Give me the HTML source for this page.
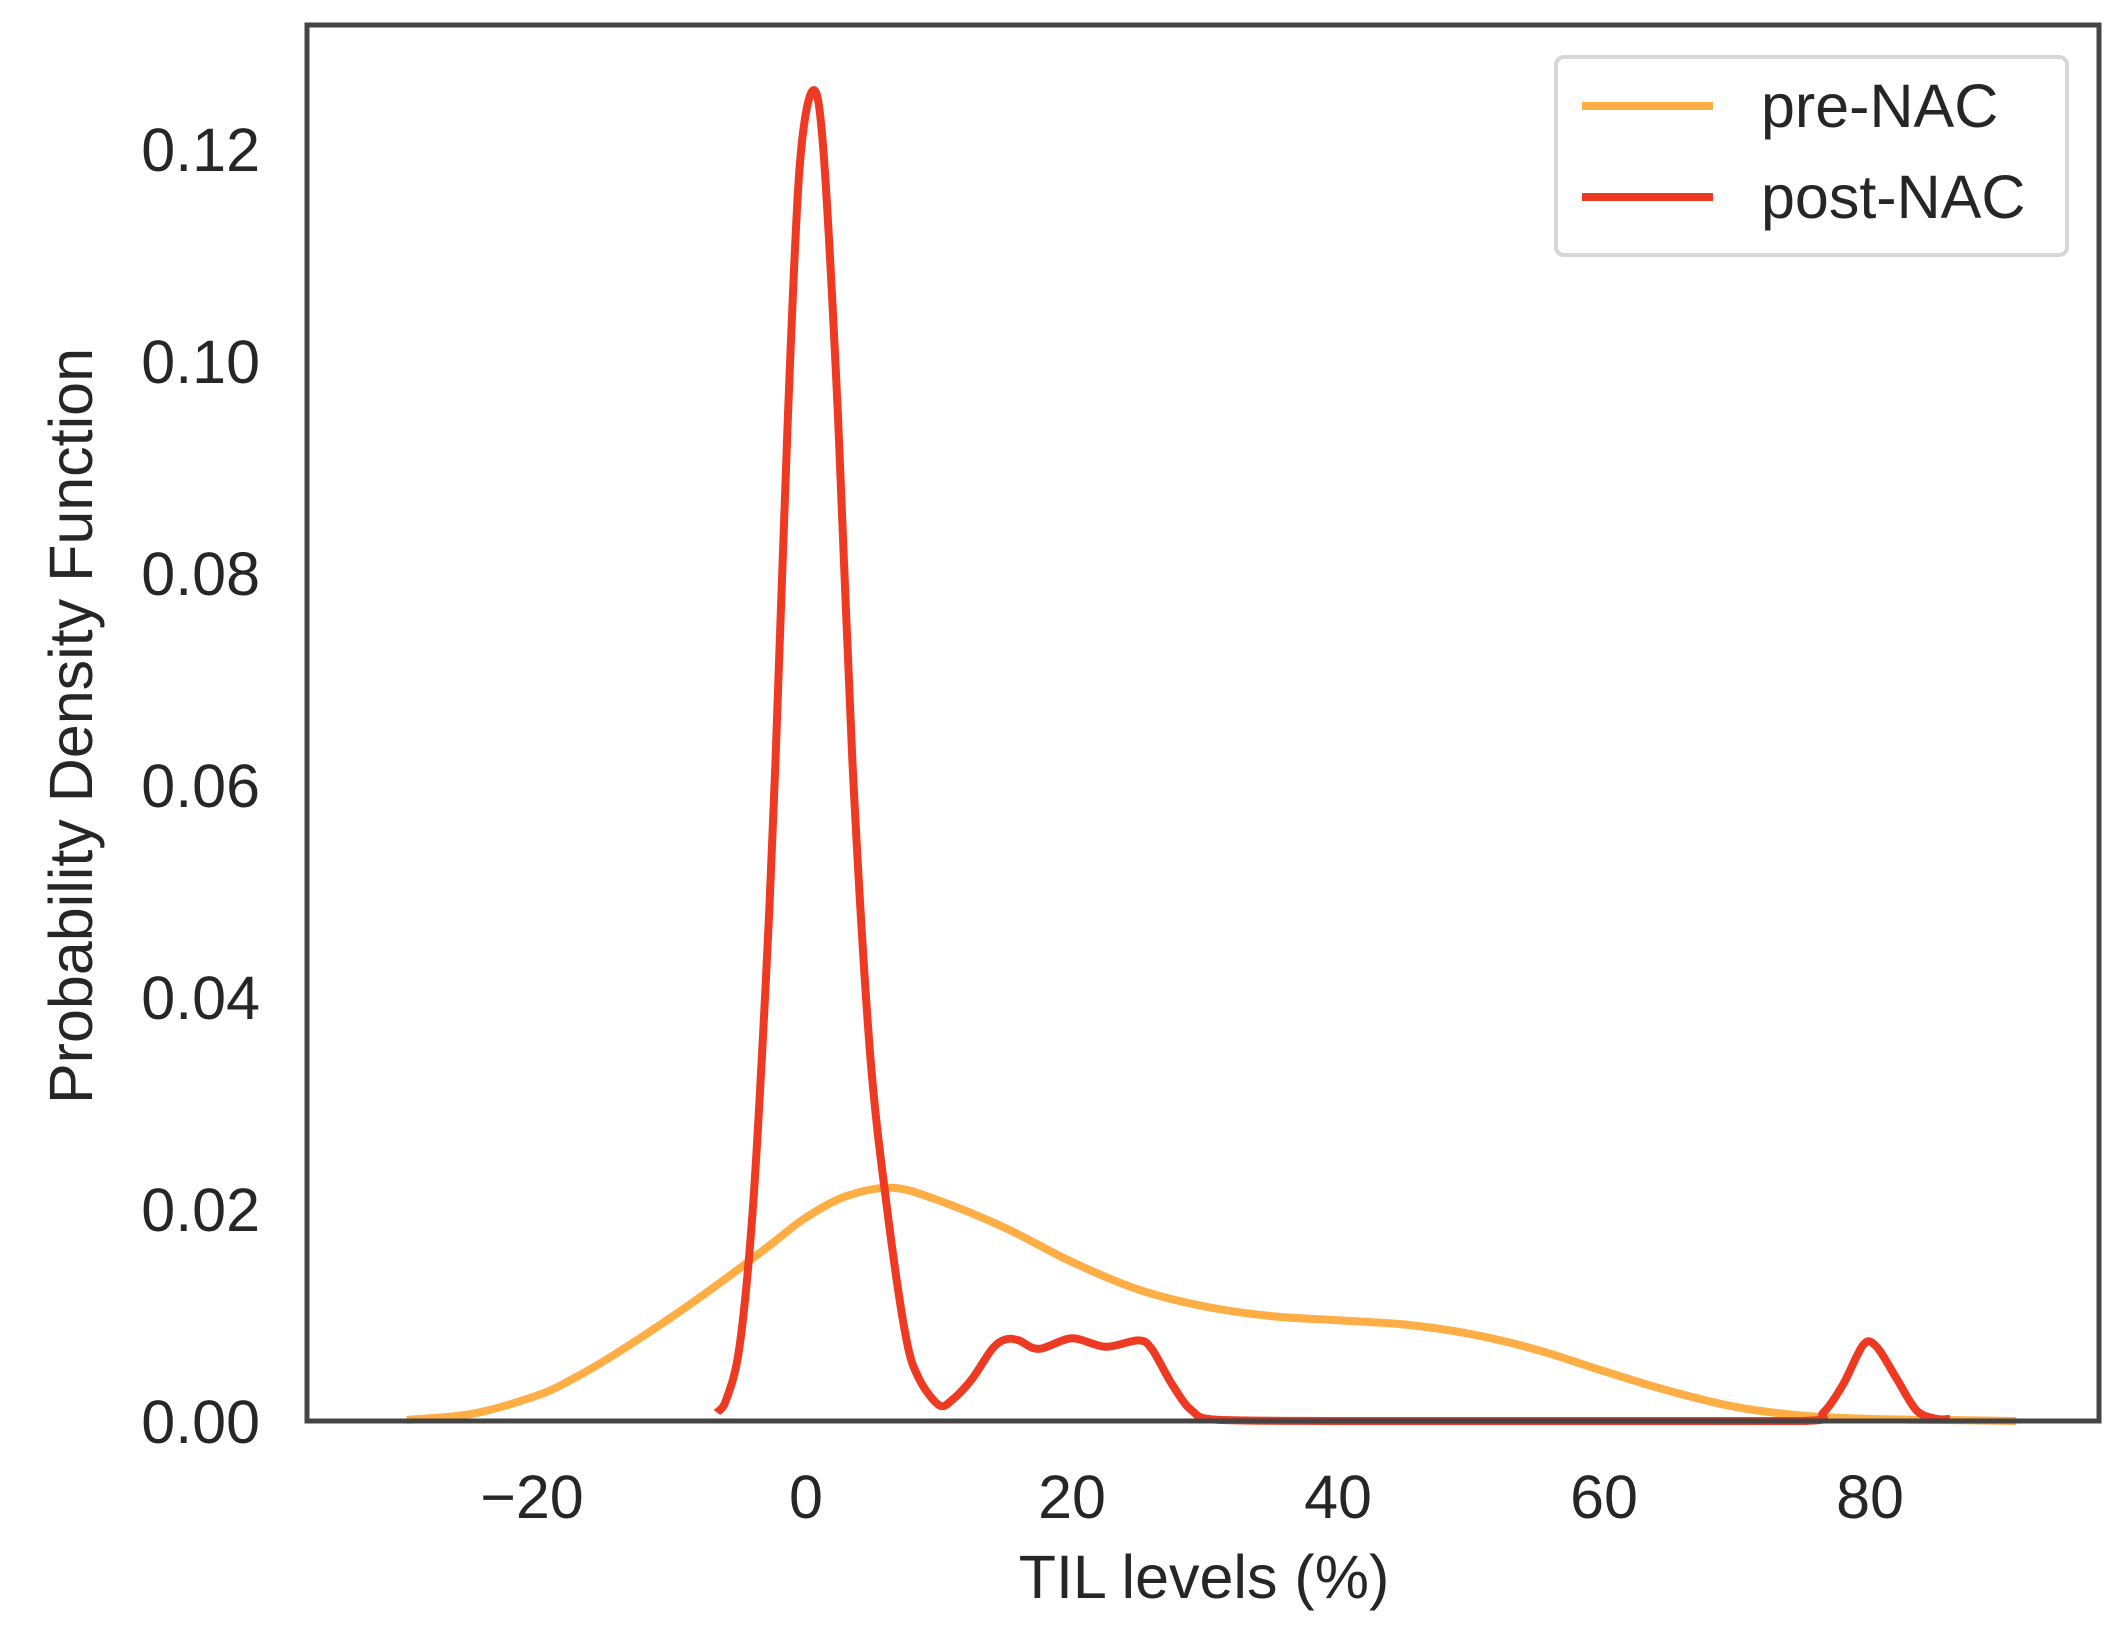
<!DOCTYPE html>
<html><head><meta charset="utf-8"><style>
html,body{margin:0;padding:0;background:#fff;}
svg{display:block;font-family:"Liberation Sans",sans-serif;}
</style></head><body>
<svg id="chart" width="2128" height="1632" viewBox="0 0 2128 1632">
<g id="series"></g>
<rect x="307" y="25" width="1792" height="1396" fill="none" stroke="#444" stroke-width="5"/>
<g id="xticks" font-size="61" fill="#262626" text-anchor="middle"></g>
<g id="yticks" font-size="61" fill="#262626" text-anchor="end"></g>
<text x="1204" y="1598" font-size="61" fill="#262626" text-anchor="middle">TIL levels (%)</text>
<text transform="translate(92,726) rotate(-90)" font-size="61" fill="#262626" text-anchor="middle">Probability Density Function</text>
<g>
<rect x="1556" y="57" width="511" height="198" rx="8" fill="#fff" stroke="#d6d6d6" stroke-width="4"/>
<line x1="1582" y1="106" x2="1713" y2="106" stroke="#FFAD45" stroke-width="8"/>
<text x="1761" y="127" font-size="61" fill="#262626">pre-NAC</text>
<line x1="1582" y1="197" x2="1713" y2="197" stroke="#EE3A22" stroke-width="8"/>
<text x="1761" y="218" font-size="61" fill="#262626">post-NAC</text>
</g>
</svg>
<script>
const xTicks = [-20, 0, 20, 40, 60, 80];
const xTickLabels = ["\u221220", "0", "20", "40", "60", "80"];
const yTicks = [0, 0.02, 0.04, 0.06, 0.08, 0.10, 0.12];
const yTickLabels = ["0.00", "0.02", "0.04", "0.06", "0.08", "0.10", "0.12"];
const preX = [-30,-25,-20,-17.5,-15,-12.5,-10,-7.5,-5,-2.5,0,3,6.5,10,15,20,25,30,35,40,45,50,55,60,65,70,75,80,85,91];
const preY = [0.0001,0.0007,0.0025,0.0040,0.0058,0.0078,0.0099,0.0121,0.0144,0.0168,0.0192,0.0212,0.022,0.0208,0.0182,0.015,0.0124,0.0108,0.0099,0.0095,0.0091,0.0082,0.0067,0.0047,0.0028,0.0013,0.0005,0.0002,0.0001,0];
const postX = [-6.7,-6,-5,-4,-3,-2.3,-1.35,-0.5,0.5,1.3,2.4,3.5,4.8,6.1,7.5,8.5,10,11,12.5,14,15,16,17.5,20,22.5,25,26,27.5,29,31,40,60,75,76.5,78,79.5,80.5,82,83.5,85,86];
const postY = [0.0008,0.002,0.007,0.02,0.042,0.062,0.095,0.118,0.1255,0.12,0.095,0.062,0.035,0.02,0.008,0.004,0.0015,0.002,0.004,0.0068,0.0077,0.0076,0.0068,0.0078,0.007,0.0076,0.0068,0.0035,0.001,0.0001,0,0,0,0.0008,0.0035,0.0072,0.007,0.004,0.001,0.0002,0.0002];

const NS = "http://www.w3.org/2000/svg";
function sx(v){ return 806 + v*13.3; }
function sy(v){ return 1421 - v*10600; }

function pathFrom(xs, ys){
  const p = xs.map((x,i)=>[sx(x), sy(ys[i])]);
  let d = "M" + p[0][0].toFixed(1) + "," + p[0][1].toFixed(1);
  for (let i=0;i<p.length-1;i++){
    const p0=p[Math.max(0,i-1)], p1=p[i], p2=p[i+1], p3=p[Math.min(p.length-1,i+2)];
    const t=0.16;
    const c1x=p1[0]+(p2[0]-p0[0])*t, c1y=p1[1]+(p2[1]-p0[1])*t;
    const c2x=p2[0]-(p3[0]-p1[0])*t, c2y=p2[1]-(p3[1]-p1[1])*t;
    d += " C"+c1x.toFixed(1)+","+Math.min(1421,c1y).toFixed(1)+" "+c2x.toFixed(1)+","+Math.min(1421,c2y).toFixed(1)+" "+p2[0].toFixed(1)+","+p2[1].toFixed(1);
  }
  return d;
}

const g = document.getElementById("series");
const pre = document.createElementNS(NS,"path");
pre.setAttribute("d", pathFrom(preX, preY));
pre.setAttribute("fill","none");
pre.setAttribute("stroke","#FFAD45");
pre.setAttribute("stroke-width","8");


g.appendChild(pre);
const post = document.createElementNS(NS,"path");
post.setAttribute("d", pathFrom(postX, postY));
post.setAttribute("fill","none");
post.setAttribute("stroke","#EE3A22");
post.setAttribute("stroke-width","8");
post.setAttribute("stroke-linejoin","round");


g.appendChild(post);

const xg = document.getElementById("xticks");
xTicks.forEach((v,i)=>{
  const t = document.createElementNS(NS,"text");
  t.setAttribute("x", sx(v) - (v<0?8:0));
  t.setAttribute("y", 1518);
  t.textContent = xTickLabels[i];
  
  
  xg.appendChild(t);
});
const yg = document.getElementById("yticks");
yTicks.forEach((v,i)=>{
  const t = document.createElementNS(NS,"text");
  t.setAttribute("x", 260);
  t.setAttribute("y", sy(v)+22);
  t.textContent = yTickLabels[i];
  
  
  yg.appendChild(t);
});
</script>
</body></html>
